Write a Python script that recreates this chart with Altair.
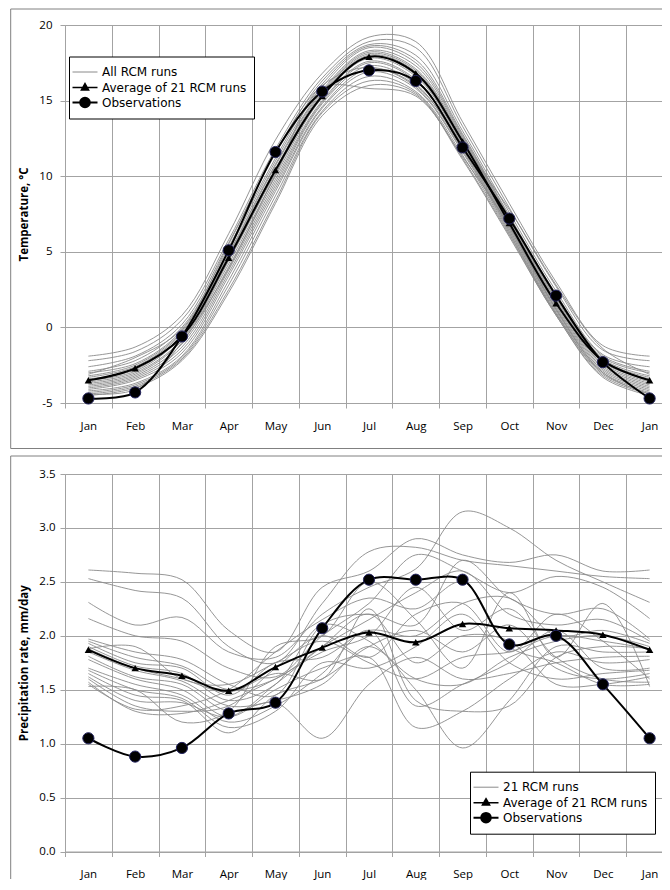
import altair as alt
import pandas as pd

MONTHS = ["Jan", "Feb", "Mar", "Apr", "May", "Jun", "Jul", "Aug", "Sep", "Oct", "Nov", "Dec", "Jan"]

AVG_LABEL = "Average of 21 RCM runs"
OBS_LABEL = "Observations"
TEMP_RUNS_LABEL = "All RCM runs"
PREC_RUNS_LABEL = "21 RCM runs"

TEMP_AVG = [-3.5, -2.7, -0.6, 4.6, 10.4, 15.3, 17.9, 16.8, 12.3, 6.9, 1.6, -2.2, -3.5]
TEMP_OBS = [-4.7, -4.3, -0.6, 5.1, 11.6, 15.6, 17.0, 16.3, 11.9, 7.2, 2.1, -2.3, -4.7]
TEMP_RUNS = [
    [-1.9, -1.3, 0.8, 6.2, 12.4, 16.8, 19.2, 18.9, 13.6, 8.2, 3.0, -1.2, -1.9],
    [-2.2, -1.6, 0.5, 5.8, 11.8, 16.5, 18.9, 18.5, 13.3, 7.9, 2.7, -1.5, -2.2],
    [-2.6, -1.9, 0.2, 5.6, 11.5, 16.3, 18.7, 18.0, 13.0, 7.6, 2.4, -1.8, -2.6],
    [-2.9, -2.2, 0.0, 5.3, 11.2, 16.1, 18.6, 17.7, 12.8, 7.4, 2.2, -1.9, -2.9],
    [-3.0, -2.4, -0.2, 5.1, 11.0, 15.9, 18.5, 17.5, 12.7, 7.3, 2.0, -2.0, -3.0],
    [-3.2, -2.5, -0.3, 4.9, 10.8, 15.7, 18.3, 17.3, 12.6, 7.2, 1.9, -2.1, -3.2],
    [-3.3, -2.6, -0.4, 4.8, 10.7, 15.6, 18.2, 17.1, 12.5, 7.1, 1.8, -2.2, -3.3],
    [-3.4, -2.8, -0.5, 4.7, 10.5, 15.5, 18.1, 17.0, 12.4, 7.0, 1.7, -2.3, -3.4],
    [-3.5, -2.9, -0.6, 4.5, 10.3, 15.4, 18.0, 16.9, 12.3, 6.9, 1.6, -2.3, -3.5],
    [-3.6, -3.0, -0.8, 4.4, 10.2, 15.3, 17.9, 16.7, 12.2, 6.8, 1.5, -2.4, -3.6],
    [-3.7, -3.1, -0.9, 4.2, 10.0, 15.2, 17.8, 16.6, 12.1, 6.8, 1.4, -2.5, -3.7],
    [-3.8, -3.2, -1.1, 4.0, 9.8, 15.0, 17.6, 16.4, 12.0, 6.7, 1.3, -2.6, -3.8],
    [-3.9, -3.3, -1.3, 3.8, 9.6, 14.9, 17.5, 16.3, 11.9, 6.6, 1.2, -2.7, -3.9],
    [-4.0, -3.4, -1.5, 3.6, 9.4, 14.8, 17.3, 16.1, 11.8, 6.5, 1.1, -2.8, -4.0],
    [-4.1, -3.5, -1.7, 3.4, 9.2, 14.6, 17.1, 15.9, 11.7, 6.4, 1.0, -2.9, -4.1],
    [-4.2, -3.7, -1.9, 3.1, 9.0, 14.5, 16.9, 15.8, 11.6, 6.3, 0.9, -3.0, -4.2],
    [-4.3, -3.8, -2.0, 2.8, 8.7, 14.3, 16.6, 15.6, 11.4, 6.2, 0.9, -3.1, -4.3],
    [-4.4, -3.9, -2.1, 2.5, 8.4, 14.2, 16.3, 15.5, 11.2, 6.1, 0.8, -3.2, -4.4],
    [-4.5, -4.0, -2.2, 2.3, 8.2, 14.0, 16.0, 15.4, 11.1, 6.0, 0.8, -3.3, -4.5],
    [-3.1, -2.0, -0.1, 5.5, 11.6, 16.0, 17.2, 16.0, 12.1, 7.8, 2.8, -1.4, -3.1],
    [-4.4, -4.1, -1.0, 3.9, 10.1, 15.8, 15.8, 15.3, 11.3, 6.7, 1.2, -3.0, -4.4],
]

PREC_AVG = [1.87, 1.70, 1.63, 1.49, 1.71, 1.89, 2.03, 1.94, 2.11, 2.07, 2.05, 2.01, 1.87]
PREC_OBS = [1.05, 0.88, 0.96, 1.28, 1.38, 2.07, 2.52, 2.52, 2.52, 1.92, 2.00, 1.55, 1.05]
PREC_RUNS = [
    [2.61, 2.58, 2.52, 2.05, 1.85, 2.45, 2.60, 2.90, 2.75, 2.68, 2.75, 2.60, 2.61],
    [2.53, 2.42, 2.35, 1.90, 1.75, 2.30, 2.78, 2.82, 2.70, 2.65, 2.60, 2.55, 2.53],
    [2.31, 2.10, 2.17, 1.85, 1.80, 2.20, 2.45, 2.62, 3.15, 3.00, 2.70, 2.50, 2.31],
    [2.16, 2.00, 1.95, 1.70, 1.62, 2.00, 2.30, 2.75, 2.60, 2.40, 2.55, 2.45, 2.16],
    [1.97, 1.85, 1.78, 1.55, 1.45, 2.10, 2.20, 2.10, 2.70, 2.35, 2.20, 2.25, 1.97],
    [1.95, 1.80, 1.72, 1.50, 1.60, 1.90, 2.15, 2.40, 2.60, 2.20, 2.10, 2.15, 1.95],
    [1.93, 1.75, 1.70, 1.45, 1.75, 1.80, 2.05, 2.00, 2.30, 2.35, 2.00, 2.05, 1.93],
    [1.90, 1.72, 1.65, 1.40, 1.55, 2.10, 1.95, 1.60, 1.55, 1.80, 1.95, 2.00, 1.90],
    [1.88, 1.70, 1.60, 1.48, 1.65, 1.60, 2.25, 1.40, 1.30, 1.35, 1.80, 1.90, 1.88],
    [1.85, 1.68, 1.58, 1.35, 1.40, 1.55, 1.90, 1.50, 0.96, 1.40, 1.90, 1.85, 1.85],
    [1.81, 1.62, 1.55, 1.30, 1.38, 1.05, 1.55, 1.80, 1.60, 1.65, 1.75, 1.80, 1.81],
    [1.78, 1.60, 1.50, 1.25, 1.50, 1.70, 1.80, 1.15, 1.30, 1.60, 1.85, 1.75, 1.78],
    [1.70, 1.55, 1.45, 1.20, 1.35, 1.65, 2.05, 1.35, 1.55, 1.75, 2.05, 1.70, 1.70],
    [1.68, 1.50, 1.42, 1.15, 1.30, 1.75, 1.70, 1.90, 2.20, 1.75, 1.60, 1.65, 1.68],
    [1.65, 1.45, 1.40, 1.10, 1.45, 1.60, 1.90, 2.05, 1.85, 2.10, 1.70, 1.60, 1.65],
    [1.62, 1.40, 1.38, 1.25, 1.55, 1.90, 2.20, 1.75, 2.00, 1.95, 1.55, 1.55, 1.62],
    [1.60, 1.35, 1.30, 1.35, 1.70, 2.00, 1.80, 2.20, 2.30, 1.85, 2.20, 1.95, 1.60],
    [1.57, 1.30, 1.28, 1.40, 1.60, 1.85, 2.00, 2.45, 2.05, 2.25, 1.80, 1.60, 1.57],
    [1.55, 1.32, 1.35, 1.50, 1.85, 2.15, 2.35, 2.25, 2.50, 1.90, 1.75, 1.55, 1.55],
    [1.53, 1.50, 1.20, 1.30, 1.90, 2.00, 2.50, 2.15, 1.70, 2.40, 1.80, 2.30, 1.53],
    [1.88, 1.90, 1.60, 1.55, 1.75, 1.95, 1.75, 1.60, 1.80, 1.85, 2.00, 1.95, 1.88],
]

TEMP_TICKS = [-5, 0, 5, 10, 15, 20]
PREC_TICKS = [0.0, 0.5, 1.0, 1.5, 2.0, 2.5, 3.0, 3.5]

FONT = "Open Sans"
LEGEND_FONT = "DejaVu Sans"
GRID = "#a3a3a3"
RUN_COLOR = "#8a8a8a"
FRAME = "#808080"

# legend symbol paths (1 unit = 8 px with symbolSize 256)
P_LINE = "M-1.5625,0H1.5625"
P_TRI = P_LINE + "M0,-0.5L0.45,0.3L-0.45,0.3Z"
P_CIRC = P_LINE + "M0.6,0A0.6,0.6,0,1,1,-0.6,0A0.6,0.6,0,1,1,0.6,0Z"


def runs_df(runs):
    rows = []
    for i, r in enumerate(runs):
        for m, v in enumerate(r):
            rows.append({"m": m, "val": v, "run": "r%d" % i})
    return pd.DataFrame(rows)


def series_df(vals):
    return pd.DataFrame({"m": list(range(len(vals))), "val": vals})


def panel(runs, avg, obs, runs_label, ydomain, yticks, ylabel_expr, ytitle,
          w, h, title_x, leg_x, leg_y, frame_left, frame_top, frame_bottom,
          ylab_pad, draw_bottom):
    labels = [runs_label, AVG_LABEL, OBS_LABEL]
    month_expr = "[" + ",".join("'%s'" % m for m in MONTHS) + "][datum.value]"
    x = alt.X("m:O", scale=alt.Scale(paddingInner=0, paddingOuter=0),
              axis=alt.Axis(title=None, labelExpr=month_expr, labelAngle=0,
                            tickBand="extent", grid=True, ticks=True, tickSize=5,
                            labelPadding=12))
    y = alt.Y("val:Q", scale=alt.Scale(domain=ydomain, nice=False, zero=False),
              axis=alt.Axis(values=yticks, labelExpr=ylabel_expr, title=ytitle,
                            titleX=title_x, titleY=h / 2, titleAngle=270,
                            titleBaseline="middle", titleAlign="center",
                            tickSize=5, labelPadding=ylab_pad, grid=True))

    def legend():
        return alt.Legend(title=None, orient="none", legendX=leg_x, legendY=leg_y,
                          symbolSize=256, labelOffset=8, rowPadding=0, padding=7,
                          strokeColor="black", fillColor="white", symbolOpacity=1,
                          labelFont=LEGEND_FONT, labelFontSize=12, labelColor="black")

    rl = alt.Chart(runs_df(runs)).mark_line(
        interpolate="catmull-rom", strokeWidth=0.9, color=RUN_COLOR).encode(
        x=x, y=y, detail="run:N")

    avg_df = series_df(avg)
    obs_df = series_df(obs)
    al = alt.Chart(avg_df).mark_line(interpolate="catmull-rom", strokeWidth=2, color="black").encode(x=x, y=y)
    ap = alt.Chart(avg_df).mark_point(shape="triangle-up", filled=True, size=55,
                                      color="black", opacity=1).encode(x=x, y=y)
    ol = alt.Chart(obs_df).mark_line(interpolate="catmull-rom", strokeWidth=2, color="black").encode(x=x, y=y)
    op = alt.Chart(obs_df).mark_point(shape="circle", filled=True, size=125, fill="black",
                                      stroke="#23235e", strokeWidth=1, opacity=1).encode(x=x, y=y)

    # invisible layer that only carries the legend
    leg_df = pd.DataFrame({"series": labels, "m": [0, 0, 0], "val": [avg[0]] * 3})
    lg = alt.Chart(leg_df).mark_point(opacity=0).encode(
        x=x, y=y,
        shape=alt.Shape("series:N", scale=alt.Scale(domain=labels, range=[P_LINE, P_TRI, P_CIRC]),
                        legend=legend()),
        fill=alt.Fill("series:N", scale=alt.Scale(domain=labels, range=["transparent", "black", "black"]),
                      legend=legend()),
        stroke=alt.Stroke("series:N", scale=alt.Scale(domain=labels, range=[RUN_COLOR, "black", "black"]),
                          legend=legend()),
        strokeWidth=alt.StrokeWidth("series:N", scale=alt.Scale(domain=labels, range=[1, 2, 2]),
                                    legend=legend()),
    )

    one = pd.DataFrame({"k": [0]})
    f_top = alt.Chart(one).mark_rule(color=FRAME, strokeWidth=1).encode(
        x=alt.value(frame_left), x2=alt.value(w), y=alt.value(frame_top))
    f_left = alt.Chart(one).mark_rule(color=FRAME, strokeWidth=1).encode(
        x=alt.value(frame_left), y=alt.value(frame_top), y2=alt.value(frame_bottom))
    layers = [f_top, f_left]
    if draw_bottom:
        layers.append(alt.Chart(one).mark_rule(color=FRAME, strokeWidth=1).encode(
            x=alt.value(frame_left), x2=alt.value(w), y=alt.value(frame_bottom)))
    layers += [rl, al, ol, ap, op, lg]
    return alt.layer(*layers).properties(width=w, height=h)


top = panel(TEMP_RUNS, TEMP_AVG, TEMP_OBS, TEMP_RUNS_LABEL, [-5, 20], TEMP_TICKS,
            "'' + datum.value", "Temperature, °C",
            608, 378, -41, 4, 31.5, -54.3, -16, 423.5, 8, True)

bottom = panel(PREC_RUNS, PREC_AVG, PREC_OBS, PREC_RUNS_LABEL, [0, 3.5], PREC_TICKS,
               "format(datum.value, '.1f')", "Precipitation rate, mm/day",
               608, 377.5, -41, 405, 297.7, -54.3, -18, 405, 5, False)

chart = alt.concat(top, bottom, columns=1, spacing=6).resolve_scale(
    x="independent", y="independent", shape="independent", fill="independent",
    stroke="independent", strokeWidth="independent"
).resolve_legend(shape="independent", fill="independent", stroke="independent",
                 strokeWidth="independent").properties(
    padding={"left": 2, "top": 0, "right": -12, "bottom": 0}, background="white"
).configure_view(stroke=None).configure_axis(
    labelFont=FONT, labelFontSize=11.5, labelColor="black",
    titleFont=FONT, titleFontSize=11.5, titleFontWeight="bold", titleColor="black",
    gridColor=GRID, gridWidth=1, domainColor=GRID, tickColor=GRID
)

chart.save("out.html", embed_options={"renderer": "svg", "actions": False})
